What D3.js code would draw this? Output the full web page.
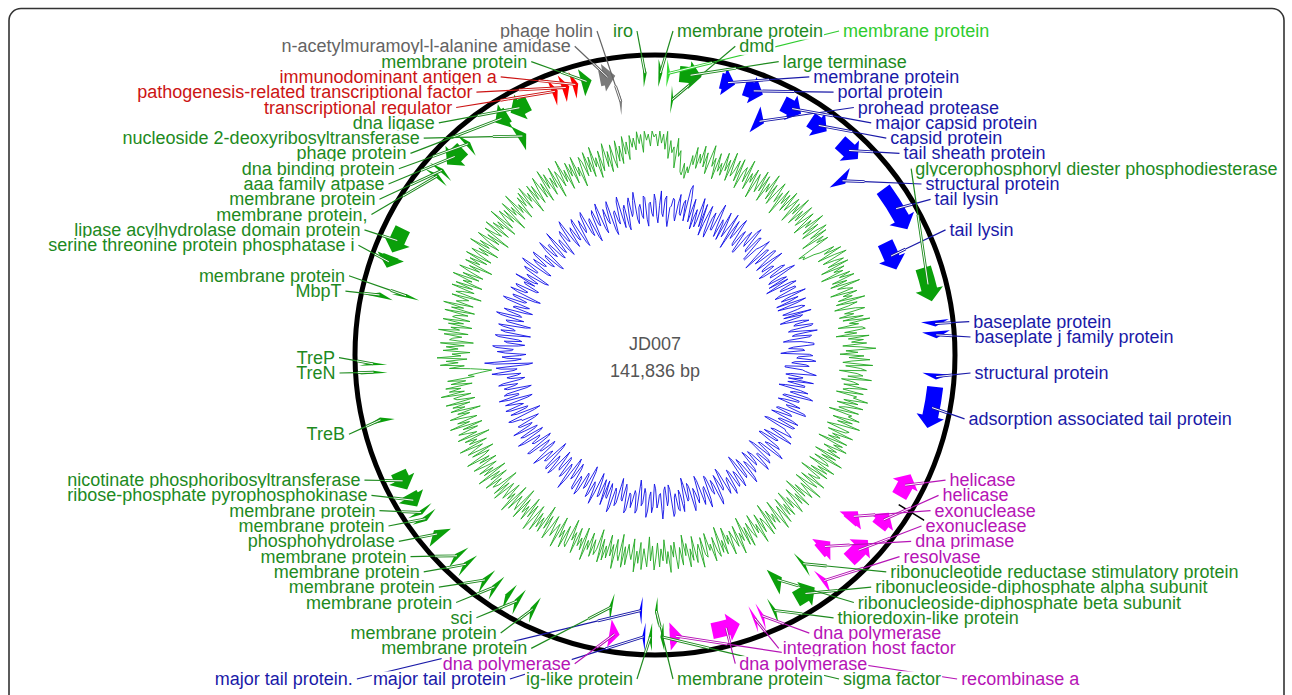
<!DOCTYPE html>
<html><head><meta charset="utf-8">
<script src="https://cdn.jsdelivr.net/npm/d3@7"></script>
<style>
body{margin:0;background:#fff}
svg{display:block}
text{font-family:"Liberation Sans",Arial,Helvetica,sans-serif}
</style>
</head><body>
<svg id="chart" width="1292" height="695"></svg>
<script>
// ---------------- DATA ----------------
const genomeName = "JD007";
const genomeLength = 141836;

const geneNames = [
"membrane protein","membrane protein","dmd","large terminase","membrane protein","portal protein","prohead protease","major capsid protein","capsid protein","tail sheath protein",
"structural protein","tail lysin","tail lysin","glycerophosphoryl diester phosphodiesterase","baseplate protein","baseplate j family protein","structural protein","adsorption associated tail protein","helicase","helicase",
"exonuclease","exonuclease","dna primase","resolvase","ribonucleotide reductase stimulatory protein","ribonucleoside-diphosphate alpha subunit","ribonucleoside-diphosphate beta subunit","thioredoxin-like protein","dna polymerase","integration host factor",
"dna polymerase","recombinase a","sigma factor","membrane protein","ig-like protein","major tail protein","major tail protein.","dna polymerase","membrane protein","membrane protein",
"sci","","membrane protein","membrane protein","membrane protein","membrane protein","phosphohydrolase","membrane protein","membrane protein","ribose-phosphate pyrophosphokinase",
"nicotinate phosphoribosyltransferase","TreB","TreN","TreP","MbpT","membrane protein","serine threonine protein phosphatase i","lipase acylhydrolase domain protein","membrane protein,","membrane protein",
"aaa family atpase","dna binding protein","phage protein","nucleoside 2-deoxyribosyltransferase","dna ligase","transcriptional regulator","pathogenesis-related transcriptional factor","immunodominant antigen a","membrane protein","n-acetylmuramoyl-l-alanine amidase",
"phage holin","iro"];
const geneStarts = [
276,946,1418,1970,5319,7289,9062,10638,13199,16154,
18202,21275,25215,28367,32701,33568,36956,38020,45309,48855,
50273,51613,53898,56183,56813,57325,59217,60911,61975,62605,
64024,68752,70210,70683,71155,71706,72060,73755,74700,80847,
82265,83132,84393,85339,87308,88293,90460,92194,92825,93573,
95148,100940,104880,105550,111027,111499,113470,114770,121745,122332,
123122,125289,128243,129149,129701,133407,134274,135138,135891,137384,
138685,140891];
const geneEnds = [
591,1221,1615,3743,6501,8865,9928,12292,14775,18123,
18912,25018,27776,31125,33174,34120,37429,41369,47279,50234,
51416,53780,55159,56577,57129,59099,60083,61187,62250,62881,
66310,69736,70486,70918,71431,71942,72296,74582,74976,81241,
82659,83526,84787,85733,87702,88687,91248,92588,93179,94755,
96724,101334,105116,105786,111421,111815,114490,116857,122060,122647,
124894,125683,129425,129937,131319,133880,134865,135611,136718,138645,
138921,141167];
const geneStrands = [
1,1,1,1,1,1,1,1,1,1,
1,1,1,1,1,1,1,1,-1,-1,
-1,-1,-1,-1,-1,-1,-1,-1,-1,-1,
-1,-1,1,1,1,1,1,-1,1,1,
1,1,1,1,1,1,1,-1,-1,-1,
-1,1,1,1,1,1,-1,-1,1,1,
-1,1,-1,1,-1,1,1,1,1,1,
1,1];
const geneCategories = [
"other","light","other","other","struct","struct","struct","struct","struct","struct",
"struct","struct","struct","other","struct","struct","struct","struct","repl","repl",
"repl","repl","repl","repl","other","other","other","other","repl","repl",
"repl","repl","other","other","other","struct","struct","repl","other","other",
"other","other","other","other","other","other","other","other","other","other",
"other","other","other","other","other","other","other","other","other","other",
"other","other","other","other","other","reg","reg","reg","other","lysis",
"lysis","other"];
const markerPositions = [47890];

// GC content deviation from genome average (%), windows evenly spaced round the genome
const gcContentDev = [
7,3,8,4,7,2,8,-1,5,1,3,-4,6,0,2,-5,-6,-2,-7,-3,-5,1,-2,4,-3,2,-1,5,-2,3,-4,1,6,-1,2,-5,4,-2,1,-3,
5,-1,3,-4,6,-2,0,4,-3,5,-5,1,3,-2,6,-4,2,-1,4,-6,3,0,-3,5,-2,4,-5,2,-1,6,-3,3,-4,1,5,-2,2,-6,4,-1,
3,-3,5,-2,1,4,-5,3,-1,6,-4,2,-2,5,-3,0,4,-5,2,-1,6,-3,3,-4,1,5,-2,4,-6,2,-1,3,-9,-7,-8,-4,-2,3,-1,5,
-4,2,6,-3,1,4,-2,5,-5,3,-1,2,-6,4,0,5,-3,2,-4,6,-2,1,3,-5,4,-1,2,-3,6,-4,3,0,-5,2,5,-2,1,-4,4,-3,
6,-1,2,-5,3,4,-3,1,-6,5,-2,3,-1,4,-4,2,7,-3,1,-5,3,-2,5,-1,-4,6,-3,2,4,-5,1,3,-2,6,-4,0,2,-3,5,-1,
-3,4,-5,2,1,6,-2,3,-4,5,-1,-3,4,-6,2,1,5,-4,3,-2,6,-1,-5,3,2,-4,5,-2,1,-3,4,-6,3,0,5,-3,2,-1,4,-5,
3,-2,6,-4,1,2,-5,5,-1,3,-3,4,-6,2,1,-2,5,-4,3,0,-5,6,-2,1,4,-3,2,-6,5,-1,3,-4,1,5,-2,2,-5,4,-1,3,
-4,5,-2,1,6,-5,3,-1,2,-3,4,-6,5,0,-2,3,-4,6,-1,2,-5,3,1,-3,5,-2,4,-6,2,-1,6,-4,3,0,-3,5,-2,1,-5,4,
-1,3,-6,4,2,-3,5,-1,1,-5,3,2,-4,6,-2,0,4,-5,3,-1,5,-3,1,-6,4,-2,2,5,-4,1,-3,6,-1,3,-5,2,-2,4,-4,1,
5,-3,2,-6,4,1,-2,5,-4,3,-1,6,-5,2,0,-3,4,-2,5,-6,3,1,-4,6,-2,2,-5,3,-1,4,-3,5,-6,1,3,-2,4,-4,2,-1,
6,-5,3,-1,2,-4,5,-2,1,-6,4,3,-3,5,-1,2,-5,6,-2,0,3,-4,1,5,-3,2,-6,4,-1,3,-2,5,-4,1,6,-3,2,-5,4,-1,
2,-3,5,-6,3,1,-2,4,-5,6,-1,2,-4,3,0,-3,5,-2,4,-6,1,3,-1,5,-4,2,-2,6,-5,3,-1,4,-3,1,5,-4,2,-2,6,-1,
-3,3,-5,4,1,-2,6,-4,2,-1,3,-6,5,-2,1,4,-3,2,-5,6,-1,3,-4,0,5,-2,2,-6,4,-1,3,-3,5,-5,1,2,-4,6,-2,3,
-1,4,-5,2,-3,3,-6,-4,-8,-12,-9,-5,2,-3,5,-1,3,-4,6,-2,1,-5,4,-1,3,-3,5,-6,2,1,-2,4,-4,6,-1,2,-5,3,-2,5,
-4,2,1,-3,5,-5,3,-1,6,-4,2,0,-2,4,-6,3,1,-3,5,-2,4,-5,2,-1,6,-3,3,-4,1,5,-2,2,-6,4,-1,3,-3,5,-4,1,
4,-2,2,-5,6,-1,3,-4,1,5,-3,2,-6,4,0,-2,5,-4,3,-1,2,-5,6,-3,1,4,-2,3,-6,5,-1,2,-4,6,-2,1,-5,3,-1,4,
-3,5,-1,2,-6,4,-2,3,-4,1,5,-3,2,-5,6,-1,4,-4,2,-2,5,-6,3,1,-3,6,-2,2,-5,4,-1,3,-4,5,-2,1,-6,4,2,-3,
5,-2,3,-4,6,-1,2,-5,4,-3,1,6,-2,3,-4,5,0,-3,6,-1,4,-2,7,1,5,-1,7,3,6,2,8,4,7,1,8,5,7,3,8,6];

// GC skew (x100), windows evenly spaced round the genome
const gcSkew = [
6,-4,-8,3,12,-2,-4,7,9,-6,-10,2,3,8,7,-3,-6,5,11,-1,-2,6,8,-5,15,18,10,-5,3,10,-9,-1,4,-7,-3,12,5,-6,9,-11,
-3,4,9,-8,-11,2,6,-5,-5,7,13,-2,-8,4,2,-9,10,3,-6,-1,4,11,-12,0,8,-4,-1,7,11,-6,-7,2,5,-10,-10,3,7,-1,-3,9,
12,-4,-5,7,8,-9,-9,1,3,6,10,-3,-12,5,6,-6,-2,8,9,-2,-8,4,11,-5,-6,1,2,-10,-7,6,8,-3,-4,9,13,-5,-7,2,5,-8,
5,-3,-11,6,9,-2,-3,7,7,-5,-8,3,12,-1,-5,6,1,-9,10,4,-9,-2,6,8,3,-7,-4,11,-7,5,3,-6,-10,4,8,-1,-2,10,9,-4,
-6,3,12,-2,-4,8,7,-6,-10,1,5,9,9,-4,-7,2,3,-8,-12,6,8,-1,-2,7,10,-3,-5,4,6,-9,-9,2,4,7,11,-5,-8,3,2,-6,
10,-2,-6,5,5,-7,-11,3,8,-1,-3,9,12,-6,-7,4,4,-5,-9,1,6,-3,-1,10,11,-7,-8,2,3,-6,-10,5,9,-3,-4,8,7,-10,-12,3,
4,7,9,-3,-5,6,11,-4,-8,3,2,-9,-10,5,7,-1,-3,9,12,-5,-6,3,5,-8,-11,6,8,-2,-2,7,10,-4,-7,1,3,-6,-9,4,6,-2,
-4,8,11,-5,-8,4,5,-9,-12,5,9,-1,-3,6,7,-4,-6,7,10,-2,-1,5,8,-7,-10,3,4,-3,-7,9,12,-2,-5,4,2,-8,-9,6,11,-3,
-2,5,8,-8,-11,3,6,-1,-4,7,10,-6,-8,2,3,-7,-12,4,9,-2,-5,8,7,-3,-1,9,11,-6,-9,1,4,-8,-6,6,12,-4,-3,2,5,-7,
-10,4,8,-5,-2,7,11,-4,-7,2,4,-8,-12,7,9,-3,-5,1,6,-2,-3,8,10,-5,-8,3,2,-6,-11,5,7,-2,-4,9,12,-3,-6,4,3,-7,
9,-2,-7,4,5,-6,-10,3,11,-1,-3,6,8,-9,-12,2,4,-5,-6,7,10,-1,-2,8,7,-6,-9,1,3,-8,-11,5,12,-3,-5,4,6,-7,-8,3,
2,-5,-10,6,9,-2,-4,8,7,-9,-12,4,5,-3,-1,7,11,-6,-8,2,3,-4,-6,9,10,-7,-9,3,4,-2,-3,8,12,-5,-7,6,8,-3,-5,4,
11,-1,-3,5,6,-6,-9,2,2,8,10,-8,-12,3,7,-4,-5,6,9,-3,-1,4,8,-7,-10,5,11,-2,-2,7,5,-8,-11,4,6,-1,-3,9,6,-5,
-8,1,3,-4,-6,8,12,-2,-4,6,9,-11,-14,10,16,-3,-7,2,5,-6,-10,3,8,-1,-2,9,11,-5,-9,2,4,-7,-5,8,10,-3,-12,4,7,-2,
-1,6,9,-8,-11,4,5,-2,-6,9,12,-4,-3,5,8,-6,-10,3,2,-5,-7,8,11,-3,-4,5,6,-9,-12,4,9,-1,-2,6,7,-7,-8,2,3,-4,
10,-3,-5,2,4,-9,-11,6,8,-1,-1,9,12,-7,-9,3,6,-2,-3,7,9,-5,-7,1,2,-10,-12,4,10,-2,-4,5,5,-6,-8,3,11,-4,-6,2,
3,-6,-10,5,7,-1,-2,9,12,-4,-8,3,5,-4,-5,7,9,-8,-11,2,6,-3,-1,8,10,-5,-7,3,4,-9,-12,6,8,-2,-3,7,11,-6,-9,1,
6,-2,-4,7,10,-9,-12,2,3,-4,-6,8,11,-2,-9,3,5,-8,-11,6,9,-3,-1,7,12,-5,-8,2,4,-3,-5,9,8,-6,-10,4,5,-2,-4,10];

// ---------------- STYLE ----------------
const catFill = {other:"#0aa00a", light:"#33dd33", struct:"#0000ff", repl:"#ff00ff", reg:"#ff0000", lysis:"#7a7a7a"};
const catText = {other:"#1e8a1e", light:"#2ecc2e", struct:"#1a1aa8", repl:"#b614b6", reg:"#cc1414", lysis:"#646464"};

const cx = 655, cy = 355;
const R_BACK = 300;
const LEVEL_MID = [282, 256];
const BODY_HW = 8, HEAD_HW = 14, HEAD_LEN = 12;
const R_LAB = 320, GAP = 15.3, YTOP = 31, YMAX = 679, XMIN = 14, XMAX = 1278;
const SHARE_DY = 310, ROW_GAP = 20;
const FONT = 18;

const svg = d3.select("#chart");
const angle = d3.scaleLinear().domain([0, genomeLength]).range([0, 2 * Math.PI]);
const P = (a, r) => [cx + r * Math.sin(a), cy - r * Math.cos(a)];

// frame
svg.append("rect").attr("x", 9).attr("y", 8.5).attr("width", 1275).attr("height", 720)
  .attr("rx", 12).attr("fill", "none").attr("stroke", "#333").attr("stroke-width", 1.6);

// ---------------- GC tracks ----------------
const gcR = d3.scaleLinear().domain([-10, 10]).range([170, 230]);
const skR = d3.scaleLinear().domain([-25, 25]).range([105, 185]);
const g0 = svg.append("g").attr("transform", `translate(${cx},${cy})`);
g0.append("path")
  .attr("d", d3.lineRadial().curve(d3.curveLinearClosed)
    .angle((d, i) => angle((i + 0.5) * genomeLength / gcContentDev.length)).radius(d => gcR(d))(gcContentDev))
  .attr("fill", "none").attr("stroke", "#22a822").attr("stroke-width", 0.9);
g0.append("path")
  .attr("d", d3.lineRadial().curve(d3.curveLinearClosed)
    .angle((d, i) => angle((i + 0.5) * genomeLength / gcSkew.length)).radius(d => skR(d))(gcSkew))
  .attr("fill", "none").attr("stroke", "#1010e6").attr("stroke-width", 0.9);

// backbone
svg.append("circle").attr("cx", cx).attr("cy", cy).attr("r", R_BACK)
  .attr("fill", "none").attr("stroke", "#000").attr("stroke-width", 5);

// markers
markerPositions.forEach(m => {
  const a = angle(m), p1 = P(a, 286), p2 = P(a, 316);
  svg.append("line").attr("x1", p1[0]).attr("y1", p1[1]).attr("x2", p2[0]).attr("y2", p2[1])
    .attr("stroke", "#000").attr("stroke-width", 1.6);
});

// ---------------- genes ----------------
const genes = geneNames.map((n, i) => ({
  name: n, start: geneStarts[i], end: geneEnds[i], strand: geneStrands[i], cat: geneCategories[i]
}));
const PAD = 236;
const lastEnd = [];
genes.slice().sort((a, b) => a.start - b.start).forEach(g => {
  let lv = 0;
  while (lastEnd[lv] !== undefined && g.start <= lastEnd[lv] + PAD) lv++;
  g.level = Math.min(lv, LEVEL_MID.length - 1);
  lastEnd[lv] = g.end;
});
genes.forEach(g => {
  g.a0 = angle(g.start); g.a1 = angle(g.end); g.mid = (g.a0 + g.a1) / 2; g.rm = LEVEL_MID[g.level];
  g.deg = g.mid * 180 / Math.PI;
});

function arc(path, a0, a1, r) {
  const p = P(a1, r);
  const large = Math.abs(a1 - a0) > Math.PI ? 1 : 0;
  const sweep = a1 > a0 ? 1 : 0;
  path.push(`A${r},${r} 0 ${large} ${sweep} ${p[0]},${p[1]}`);
}
function arrowPath(g) {
  const rm = g.rm, span = g.a1 - g.a0;
  const h = Math.min(span, HEAD_LEN / rm);
  const pts = [];
  const M = (a, r) => { const p = P(a, r); pts.push(`M${p[0]},${p[1]}`); };
  const L = (a, r) => { const p = P(a, r); pts.push(`L${p[0]},${p[1]}`); };
  let base, tip, bodyEnd;
  if (g.strand > 0) { base = g.a0; tip = g.a1; bodyEnd = g.a1 - h; }
  else { base = g.a1; tip = g.a0; bodyEnd = g.a0 + h; }
  if (Math.abs(bodyEnd - base) < 1e-6) {
    M(base, rm + HEAD_HW); L(tip, rm); L(base, rm - HEAD_HW); pts.push("Z");
  } else {
    M(base, rm + BODY_HW); arc(pts, base, bodyEnd, rm + BODY_HW);
    L(bodyEnd, rm + HEAD_HW); L(tip, rm); L(bodyEnd, rm - HEAD_HW); L(bodyEnd, rm - BODY_HW);
    arc(pts, bodyEnd, base, rm - BODY_HW); pts.push("Z");
  }
  return pts.join("");
}
svg.append("g").selectAll("path").data(genes).join("path")
  .attr("d", arrowPath).attr("fill", d => catFill[d.cat]);

// ---------------- labels layout ----------------
const measure = svg.append("text").attr("font-size", FONT).attr("visibility", "hidden");
const labels = genes.filter(g => g.name).map(g => {
  measure.text(g.name);
  return { g, w: measure.node().getComputedTextLength(),
           side: g.mid < Math.PI ? 1 : -1, ideal: cy - R_LAB * Math.cos(g.mid) };
});
measure.remove();

// four chains, each walking rows away from the top or bottom of the page;
// rows at the extreme top/bottom may hold several labels side by side
function chain(items, top, side) {
  const y0 = top ? YTOP : YMAX, dir = top ? 1 : -1;
  const rowY = k => y0 + dir * k * GAP;
  const halfW = y => { const dy = y - cy; return Math.max(22, Math.sqrt(Math.max(0, R_LAB * R_LAB - dy * dy))); };
  const fits = (x0, w) => x0 >= XMIN && x0 + w <= XMAX;
  const posAt = (d, q) => side > 0 ? cx + halfW(rowY(q)) : cx - halfW(rowY(q)) - d.w;
  items.forEach((d, i) => {
    d.order = i;
    d.kEff = Math.max(0, Math.round((d.ideal - y0) / (dir * GAP)));
  });
  for (let iter = 0; iter < 30; iter++) {
    const seq = items.slice().sort((a, b) => a.kEff - b.kEff || a.order - b.order);
    let k = -1, row = [];
    seq.forEach(d => {
      if (row.length) {
        const y = rowY(k);
        const cap = k === 0 ? (top ? 2 : 3) : 1;
        if (d.kEff <= k && row.length < cap && Math.abs(y - cy) > SHARE_DY) {
          const o = row[row.length - 1];
          const x0 = side > 0 ? o.x0 + o.w + ROW_GAP : o.x0 - ROW_GAP - d.w;
          if (fits(x0, d.w)) { d.x0 = x0; d.y = y; d.k = k; row.push(d); return; }
        }
      }
      k = Math.max(k + 1, d.kEff);
      d.k = k; d.y = rowY(k); d.x0 = posAt(d, k); row = [d];
    });
    const bad = items.filter(d => !fits(d.x0, d.w));
    if (!bad.length) break;
    bad.forEach(d => { d.kEff = Math.max(0, Math.min(d.kEff, d.k) - 1); });
  }
}
const inRange = (lo, hi) => labels.filter(d => d.g.deg >= lo && d.g.deg < hi);
chain(inRange(0, 90).sort((a, b) => a.g.deg - b.g.deg), true, 1);
chain(inRange(90, 180).sort((a, b) => b.g.deg - a.g.deg), false, 1);
chain(inRange(180, 270).sort((a, b) => a.g.deg - b.g.deg), false, -1);
chain(inRange(270, 360).sort((a, b) => b.g.deg - a.g.deg), true, -1);

// leader lines
const lg = svg.append("g");
labels.forEach(d => {
  const F = P(d.g.mid, d.g.rm);
  const Lp = d.side > 0 ? [d.x0 - 4, d.y] : [d.x0 + d.w + 4, d.y];
  const rc = d.g.rm + HEAD_HW + 2;
  const ux = F[0] - cx, uy = F[1] - cy, vx = Lp[0] - F[0], vy = Lp[1] - F[1];
  const A = vx * vx + vy * vy, B = 2 * (ux * vx + uy * vy), C = ux * ux + uy * uy - rc * rc;
  let t = (-B + Math.sqrt(Math.max(0, B * B - 4 * A * C))) / (2 * A);
  t = Math.max(0, Math.min(1, t));
  const X = [F[0] + t * vx, F[1] + t * vy];
  const col = catText[d.g.cat];
  lg.append("line").attr("x1", F[0]).attr("y1", F[1]).attr("x2", X[0]).attr("y2", X[1])
    .attr("stroke", col).attr("stroke-width", 2.8);
  lg.append("line").attr("x1", F[0]).attr("y1", F[1]).attr("x2", X[0]).attr("y2", X[1])
    .attr("stroke", "#fff").attr("stroke-width", 1);
  lg.append("line").attr("x1", X[0]).attr("y1", X[1]).attr("x2", Lp[0]).attr("y2", Lp[1])
    .attr("stroke", col).attr("stroke-width", 1.2);
});

// label text with white backing (drawn top to bottom so descenders are trimmed like the original)
const tg = svg.append("g");
labels.slice().sort((a, b) => a.y - b.y).forEach(d => {
  const grp = tg.append("g");
  grp.append("rect").attr("fill", "#fff")
    .attr("x", d.x0 - 1).attr("y", d.y + 6 - 13.6).attr("width", d.w + 2).attr("height", 16.2);
  grp.append("text").attr("x", d.x0).attr("y", d.y + 6)
    .attr("font-size", FONT).attr("fill", catText[d.g.cat]).text(d.g.name);
});

// centre title
svg.append("text").attr("x", cx).attr("y", 350).attr("text-anchor", "middle")
  .attr("font-size", 18).attr("fill", "#555").text(genomeName);
svg.append("text").attr("x", cx).attr("y", 377).attr("text-anchor", "middle")
  .attr("font-size", 18).attr("fill", "#555").text(d3.format(",")(genomeLength) + " bp");
</script>
</body></html>
